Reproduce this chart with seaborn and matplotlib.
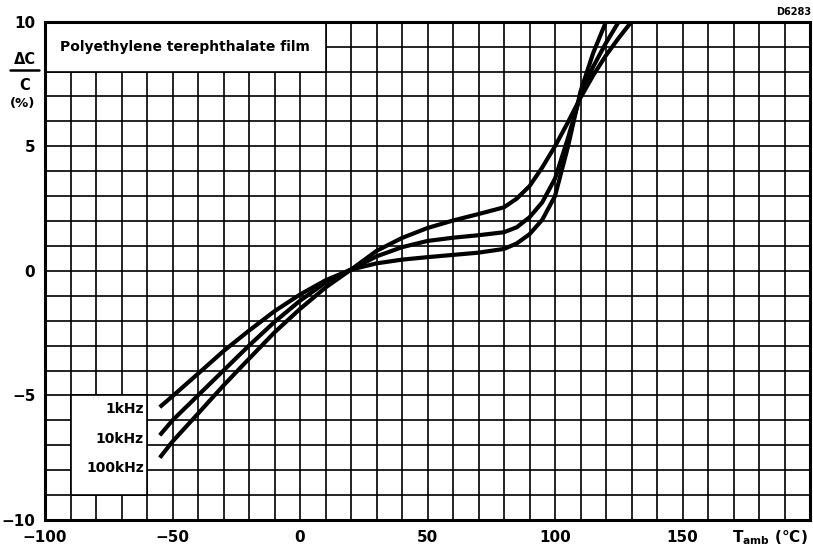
import numpy as np
import pandas as pd
import matplotlib
matplotlib.use("Agg")
import matplotlib.pyplot as plt
import seaborn as sns
from matplotlib.patches import Rectangle
from matplotlib.lines import Line2D

# ---- data ----
freq_labels = ["1kHz", "10kHz", "100kHz"]

temp_1k = [-55, -50, -40, -30, -20, -10, 0, 10, 20, 30, 40, 50, 60, 70, 80, 85, 90, 95, 100, 105, 110, 115, 120]
dc_1k = [-5.47, -5.03, -4.13, -3.22, -2.40, -1.62, -0.95, -0.38, 0.05, 0.30, 0.45, 0.55, 0.64, 0.73, 0.88,
         1.10, 1.47, 2.05, 3.00, 4.95, 7.20, 8.75, 10.0]

temp_10k = [-55, -50, -40, -30, -20, -10, 0, 10, 20, 30, 40, 50, 60, 70, 80, 85, 90, 95, 100, 105, 110, 115, 120, 125]
dc_10k = [-6.6, -6.0, -5.0, -4.0, -3.0, -2.05, -1.2, -0.47, 0.05, 0.58, 0.95, 1.2, 1.33, 1.43, 1.55,
          1.75, 2.15, 2.75, 3.7, 5.3, 7.05, 8.2, 9.15, 10.0]

temp_100k = [-55, -50, -40, -30, -20, -10, 0, 10, 20, 30, 40, 50, 60, 70, 80, 85, 90, 95, 100, 105, 110, 115, 120, 125, 130]
dc_100k = [-7.5, -6.85, -5.73, -4.6, -3.53, -2.47, -1.53, -0.67, 0.05, 0.8, 1.32, 1.72, 2.02, 2.28, 2.55,
           2.9, 3.4, 4.15, 5.0, 5.95, 6.95, 7.85, 8.65, 9.35, 10.0]

x_ticks = list(range(-100, 201, 10))
x_tick_labels = ["\u2212100", "", "", "", "", "\u221250", "", "", "", "", "0", "", "", "", "", "50",
                 "", "", "", "", "100", "", "", "", "", "150", "", "", "", "", ""]
y_ticks = list(range(-10, 11, 1))
y_tick_labels = ["\u221210", "", "", "", "", "\u22125", "", "", "", "", "0", "", "", "", "", "5",
                 "", "", "", "", "10"]

title_text = "Polyethylene terephthalate film"
code_text = "D6283"

df = pd.concat([
    pd.DataFrame({"T": temp_1k, "dC": dc_1k, "freq": freq_labels[0]}),
    pd.DataFrame({"T": temp_10k, "dC": dc_10k, "freq": freq_labels[1]}),
    pd.DataFrame({"T": temp_100k, "dC": dc_100k, "freq": freq_labels[2]}),
], ignore_index=True)

# ---- figure ----
sns.set_theme(style="white")
plt.rcParams["font.family"] = ["DejaVu Sans"]
plt.rcParams["mathtext.fontset"] = "dejavusans"
plt.rcParams["text.color"] = "black"
plt.rcParams["xtick.color"] = "black"
plt.rcParams["ytick.color"] = "black"

W, H = 813, 550
fig = plt.figure(figsize=(W / 100, H / 100), dpi=100)
left, right, top, bottom = 45, 810, 21.7, 520
ax = fig.add_axes([left / W, 1 - bottom / H, (right - left) / W, (bottom - top) / H])

sns.lineplot(data=df, x="T", y="dC", hue="freq", palette=["black"] * 3, legend=False,
             estimator=None, sort=False, lw=3.0, ax=ax, zorder=4, solid_capstyle="butt")

ax.set_xlim(-100, 200)
ax.set_ylim(-10, 10)
ax.set_xticks(x_ticks)
ax.set_xticklabels(x_tick_labels)
ax.set_yticks(y_ticks)
ax.set_yticklabels(y_tick_labels)
ax.tick_params(length=0, labelsize=11, pad=7, colors="black")
for lab in ax.get_xticklabels() + ax.get_yticklabels():
    lab.set_fontweight("bold")
    lab.set_color("black")
ax.set_xlabel("")
ax.set_ylabel("")
ax.set_axisbelow(True)
ax.grid(True, color="black", lw=1.2)
for sp in ax.spines.values():
    sp.set_color("black")
    sp.set_linewidth(2.2)
    sp.set_visible(True)

# title box
ax.add_patch(Rectangle((-100, 8), 110, 2, facecolor="white", edgecolor="black", lw=1.2, zorder=1))
ax.text(-45, 9, title_text, ha="center", va="center", fontsize=10, fontweight="bold",
        color="black", zorder=2)

# legend box
ax.add_patch(Rectangle((-90, -9), 30, 4, facecolor="white", edgecolor="black", lw=1.2, zorder=1))
for lab, yy in zip(freq_labels, [-5.53, -6.75, -7.9]):
    ax.text(-61.2, yy, lab, ha="right", va="center", fontsize=10, fontweight="bold",
            color="black", zorder=2)

# y label (stacked fraction)
fig.text(25 / W, 1 - 60 / H, "ΔC", ha="center", va="center", fontsize=10.5, fontweight="bold")
fig.add_artist(Line2D([10 / W, 39 / W], [1 - 70 / H, 1 - 70 / H], color="black", lw=1.8))
fig.text(25 / W, 1 - 85 / H, "C", ha="center", va="center", fontsize=10.5, fontweight="bold")
fig.text(23 / W, 1 - 104 / H, "(%)", ha="center", va="center", fontsize=9.5, fontweight="bold")

# x label
fig.text(808 / W, 1 - 538 / H, r"$\mathbf{T_{amb}}$ (°C)", ha="right", va="center",
         fontsize=11, fontweight="bold")

# code
fig.text(811 / W, 1 - 12 / H, code_text, ha="right", va="center", fontsize=7, fontweight="bold")

fig.savefig("out.png", dpi=100)
